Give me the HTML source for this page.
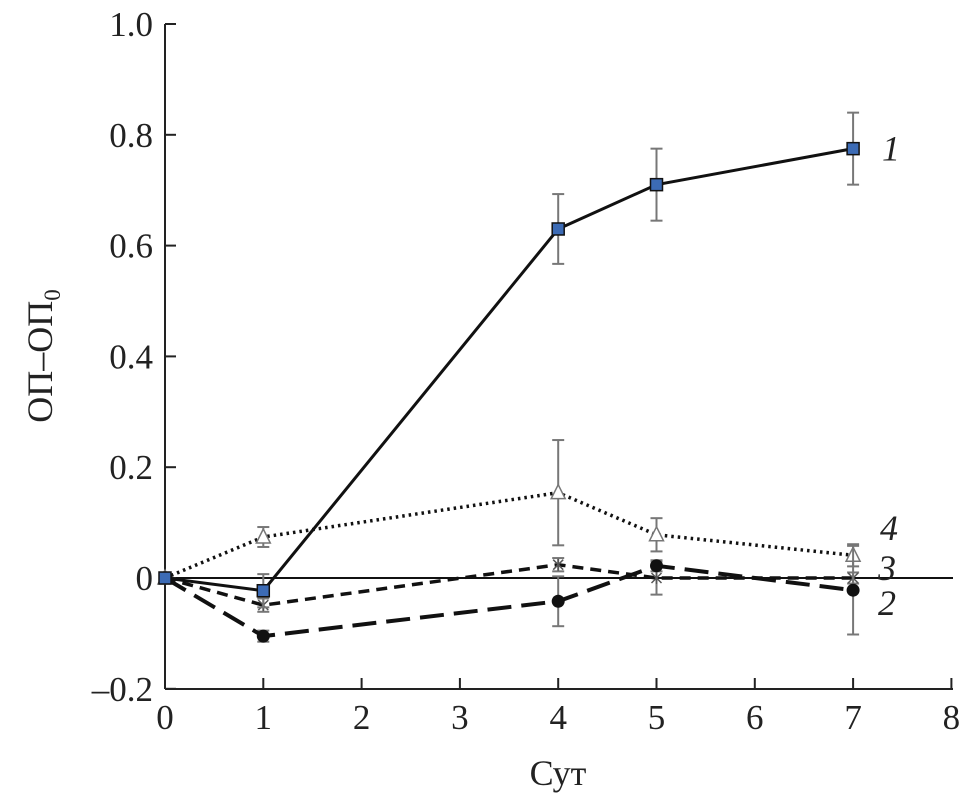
<!DOCTYPE html>
<html><head><meta charset="utf-8"><style>
body{margin:0;background:#fff}
svg text{font-family:"Liberation Serif",serif;fill:#222}
</style></head><body>
<svg id="c" width="962" height="799" viewBox="0 0 962 799" xmlns="http://www.w3.org/2000/svg"></svg>
<script>
const xTicks=[0,1,2,3,4,5,6,7,8];
const yTicks=[-0.2,0,0.2,0.4,0.6,0.8,1.0];
const yTickLabels=["\u20130.2","0","0.2","0.4","0.6","0.8","1.0"];
const days=[0,1,4,5,7];
const s1=[0,-0.023,0.63,0.71,0.775];
const e1=[0,0.03,0.063,0.065,0.065];
const s2=[0,-0.105,-0.042,0.022,-0.022];
const e2=[0,0.01,0.045,0.01,0.08];
const s3=[0,-0.049,0.024,0,0];
const e3=[0,0.012,0.012,0.03,0.01];
const s4=[0,0.074,0.154,0.078,0.041];
const e4=[0,0.018,0.095,0.03,0.02];
const seriesLabels=["1","2","3","4"];

const NS="http://www.w3.org/2000/svg";
const svg=document.getElementById('c');
const X=v=>165+v*98.3;
const Y=v=>578-v*554;
function mk(t,a,p){const e=document.createElementNS(NS,t);for(const k in a)e.setAttribute(k,a[k]);(p||svg).appendChild(e);return e;}

let ax=mk('line',{x1:165,y1:24,x2:165,y2:689,stroke:'#222','stroke-width':2});


ax=mk('line',{x1:165,y1:689,x2:953,y2:689,stroke:'#222','stroke-width':2});


ax=mk('line',{x1:165,y1:Y(0),x2:953,y2:Y(0),stroke:'#111','stroke-width':2});



xTicks.forEach(v=>{
  mk('line',{x1:X(v),y1:689,x2:X(v),y2:678,stroke:'#222','stroke-width':2});
  const t=mk('text',{x:X(v),y:729,'text-anchor':'middle','font-size':35});
  t.textContent=v;
  
  
});
yTicks.forEach((v,i)=>{
  mk('line',{x1:165,y1:Y(v),x2:176,y2:Y(v),stroke:'#222','stroke-width':2});
  const t=mk('text',{x:153,y:Y(v)+12,'text-anchor':'end','font-size':35});
  t.textContent=yTickLabels[i];
  
  
});
let tt=mk('text',{x:558,y:785,'text-anchor':'middle','font-size':36});
tt.textContent='Сут';


tt=mk('text',{transform:'translate(52,356) rotate(-90)','text-anchor':'middle','font-size':36});
tt.innerHTML='ОП–ОП<tspan font-size="23" dy="8">0</tspan>';



function series(vals,errs,dash,width,marker,name){
  const g=mk('g',{});
  
  
  days.forEach((d,i)=>{ if(errs[i]>0){
    const x=X(d),a=Y(vals[i]+errs[i]),b=Y(vals[i]-errs[i]);
    mk('line',{x1:x,y1:a,x2:x,y2:b,stroke:'#777','stroke-width':2},g);
    mk('line',{x1:x-6,y1:a,x2:x+6,y2:a,stroke:'#777','stroke-width':2},g);
    mk('line',{x1:x-6,y1:b,x2:x+6,y2:b,stroke:'#777','stroke-width':2},g);
  }});
  const pts=days.map((d,i)=>X(d)+','+Y(vals[i])).join(' ');
  const l=mk('polyline',{points:pts,fill:'none',stroke:'#111','stroke-width':width,'stroke-dasharray':dash},g);
  
  
  days.forEach((d,i)=>{
    const x=X(d),y=Y(vals[i]);let m;
    if(marker==='sq') m=mk('rect',{x:x-6,y:y-6,width:12,height:12,fill:'#3c6bb5',stroke:'#111','stroke-width':1.5},g);
    else if(marker==='ci') m=mk('circle',{cx:x,cy:y,r:6.5,fill:'#111'},g);
    else if(marker==='tri') m=mk('polygon',{points:`${x},${y-8} ${x-7},${y+6} ${x+7},${y+6}`,fill:'#fff',stroke:'#777','stroke-width':1.5},g);
    else m=mk('path',{d:`M${x-5},${y-5}L${x+5},${y+5}M${x+5},${y-5}L${x-5},${y+5}M${x},${y-6}L${x},${y+6}`,stroke:'#555','stroke-width':1.5},g);
    
    
  });
}
series(s4,e4,'2.5 4',3.5,'tri','series-4');
series(s3,e3,'11 7',3.5,'ast','series-3');
series(s2,e2,'24 10',4,'ci','series-2');
series(s1,e1,'none',3,'sq','series-1');

const labPos=[[882,Y(s1[4])+12],[878,Y(-0.045)+12],[878,Y(0.018)+12],[880,Y(0.09)+12]];
seriesLabels.forEach((s,i)=>{
  const t=mk('text',{x:labPos[i][0],y:labPos[i][1],'font-size':36,'font-style':'italic'});
  t.textContent=s;
  
  
});
</script>
</body></html>
